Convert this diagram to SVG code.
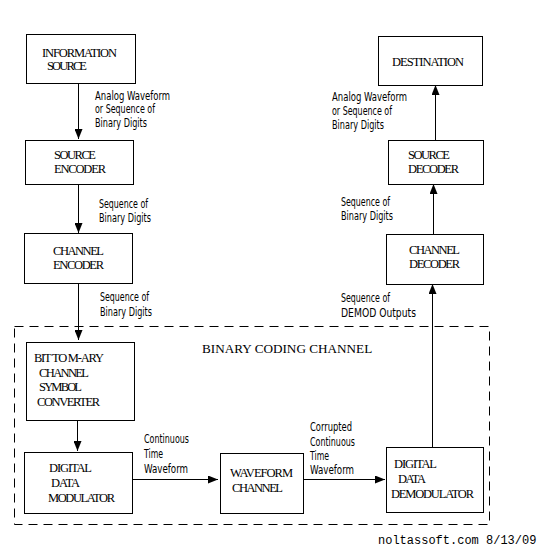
<svg xmlns="http://www.w3.org/2000/svg" width="550" height="552" viewBox="0 0 550 552">
<style>
.box{fill:#fff;stroke:#000;stroke-width:1}
.bt{font-family:"Liberation Serif","Times New Roman",serif;font-size:12.5px;fill:#000}
.lb{font-family:"Liberation Sans Narrow","DejaVu Sans Condensed","Liberation Sans",sans-serif;font-size:12px;fill:#000}
.ln{stroke:#000;stroke-width:1;fill:none}
</style>
<defs>
<marker id="ah" viewBox="0 0 10 8" refX="10" refY="4" markerWidth="10" markerHeight="8" markerUnits="userSpaceOnUse" orient="auto">
<path d="M0,0 L10,4 L0,8 Z" fill="#000"/>
</marker>
</defs>
<rect width="550" height="552" fill="#fff"/>

<g id="binary-coding-channel">
<rect x="14.5" y="326.5" width="475" height="198" fill="none" stroke="#000" stroke-width="1" stroke-dasharray="9,6"/>
<text x="202" y="353" font-family="'Liberation Serif','Times New Roman',serif" font-size="13.2px">BINARY CODING CHANNEL</text>
</g>

<g id="connectors">
<line class="ln" x1="78.5" y1="83" x2="78.5" y2="139" marker-end="url(#ah)"/>
<line class="ln" x1="78.5" y1="184" x2="78.5" y2="233" marker-end="url(#ah)"/>
<line class="ln" x1="78.5" y1="283" x2="78.5" y2="340" marker-end="url(#ah)"/>
<line class="ln" x1="77.5" y1="420" x2="77.5" y2="451" marker-end="url(#ah)"/>
<line class="ln" x1="132" y1="479.5" x2="218" y2="479.5" marker-end="url(#ah)"/>
<line class="ln" x1="303" y1="479.5" x2="385" y2="479.5" marker-end="url(#ah)"/>
<line class="ln" x1="432.5" y1="447" x2="432.5" y2="284" marker-end="url(#ah)"/>
<line class="ln" x1="433.5" y1="234" x2="433.5" y2="184" marker-end="url(#ah)"/>
<line class="ln" x1="435.5" y1="140" x2="435.5" y2="85" marker-end="url(#ah)"/>
</g>

<g id="labels">
<text class="lb" x="95" y="100" textLength="75" lengthAdjust="spacingAndGlyphs">Analog Waveform</text>
<text class="lb" x="95" y="113" textLength="60" lengthAdjust="spacingAndGlyphs">or Sequence of</text>
<text class="lb" x="95" y="127" textLength="52" lengthAdjust="spacingAndGlyphs">Binary Digits</text>
<text class="lb" x="99" y="208" textLength="49" lengthAdjust="spacingAndGlyphs">Sequence of</text>
<text class="lb" x="99" y="222" textLength="52" lengthAdjust="spacingAndGlyphs">Binary Digits</text>
<text class="lb" x="100" y="301" textLength="49" lengthAdjust="spacingAndGlyphs">Sequence of</text>
<text class="lb" x="100" y="316" textLength="52" lengthAdjust="spacingAndGlyphs">Binary Digits</text>
<text class="lb" x="144" y="443" textLength="45" lengthAdjust="spacingAndGlyphs">Continuous</text>
<text class="lb" x="144" y="458" textLength="19" lengthAdjust="spacingAndGlyphs">Time</text>
<text class="lb" x="144" y="473" textLength="44" lengthAdjust="spacingAndGlyphs">Waveform</text>
<text class="lb" x="310" y="431" textLength="42" lengthAdjust="spacingAndGlyphs">Corrupted</text>
<text class="lb" x="310" y="446" textLength="45" lengthAdjust="spacingAndGlyphs">Continuous</text>
<text class="lb" x="310" y="460" textLength="19" lengthAdjust="spacingAndGlyphs">Time</text>
<text class="lb" x="310" y="474" textLength="44" lengthAdjust="spacingAndGlyphs">Waveform</text>
<text class="lb" x="332" y="101" textLength="75" lengthAdjust="spacingAndGlyphs">Analog Waveform</text>
<text class="lb" x="332" y="115" textLength="60" lengthAdjust="spacingAndGlyphs">or Sequence of</text>
<text class="lb" x="332" y="129" textLength="52" lengthAdjust="spacingAndGlyphs">Binary Digits</text>
<text class="lb" x="341" y="206" textLength="49" lengthAdjust="spacingAndGlyphs">Sequence of</text>
<text class="lb" x="341" y="220" textLength="52" lengthAdjust="spacingAndGlyphs">Binary Digits</text>
<text class="lb" x="341" y="302" textLength="49" lengthAdjust="spacingAndGlyphs">Sequence of</text>
<text class="lb" x="341" y="317" textLength="75" lengthAdjust="spacingAndGlyphs">DEMOD Outputs</text>
</g>

<g id="information-source">
<rect class="box" x="26.5" y="34.5" width="109" height="49"/>
<text class="bt" x="42" y="56.5" textLength="75">INFORMATION</text>
<text class="bt" x="47" y="69.5" textLength="40">SOURCE</text>
</g>
<g id="source-encoder">
<rect class="box" x="25.5" y="140.5" width="108" height="44"/>
<text class="bt" x="54" y="158.5" textLength="42">SOURCE</text>
<text class="bt" x="54" y="172.5" textLength="52">ENCODER</text>
</g>
<g id="channel-encoder">
<rect class="box" x="24.5" y="233.5" width="108" height="50"/>
<text class="bt" x="53" y="254.5" textLength="51">CHANNEL</text>
<text class="bt" x="53" y="268.5" textLength="51">ENCODER</text>
</g>
<g id="bit-to-mary">
<rect class="box" x="26.5" y="342.5" width="108" height="78"/>
<text class="bt" x="34" y="361.5" textLength="70">BIT TO M-ARY</text>
<text class="bt" x="39" y="376.5" textLength="50">CHANNEL</text>
<text class="bt" x="39" y="390.5" textLength="43">SYMBOL</text>
<text class="bt" x="37" y="405.5" textLength="63">CONVERTER</text>
</g>
<g id="digital-data-modulator">
<rect class="box" x="24.5" y="452.5" width="108" height="61"/>
<text class="bt" x="49" y="471.5" textLength="43">DIGITAL</text>
<text class="bt" x="51" y="486.5" textLength="29">DATA</text>
<text class="bt" x="48" y="501.5" textLength="67">MODULATOR</text>
</g>
<g id="waveform-channel">
<rect class="box" x="220.5" y="453.5" width="83" height="60"/>
<text class="bt" x="230" y="476.5" textLength="63">WAVEFORM</text>
<text class="bt" x="232" y="491.5" textLength="51">CHANNEL</text>
</g>
<g id="digital-data-demodulator">
<rect class="box" x="386.5" y="447.5" width="97" height="65"/>
<text class="bt" x="394" y="467.5" textLength="43">DIGITAL</text>
<text class="bt" x="398" y="482.5" textLength="28">DATA</text>
<text class="bt" x="391" y="497.5" textLength="83">DEMODULATOR</text>
</g>
<g id="destination">
<rect class="box" x="378.5" y="36.5" width="104" height="49"/>
<text class="bt" x="392" y="65.5" textLength="72">DESTINATION</text>
</g>
<g id="source-decoder">
<rect class="box" x="388.5" y="140.5" width="95" height="44"/>
<text class="bt" x="408" y="158.5" textLength="42">SOURCE</text>
<text class="bt" x="408" y="172.5" textLength="51">DECODER</text>
</g>
<g id="channel-decoder">
<rect class="box" x="386.5" y="234.5" width="97" height="50"/>
<text class="bt" x="409" y="253.5" textLength="51">CHANNEL</text>
<text class="bt" x="409" y="267.5" textLength="51">DECODER</text>
</g>

<text x="378" y="544" font-family="'Liberation Mono','Courier New',monospace" font-size="12px">noltassoft.com 8/13/09</text>
</svg>
